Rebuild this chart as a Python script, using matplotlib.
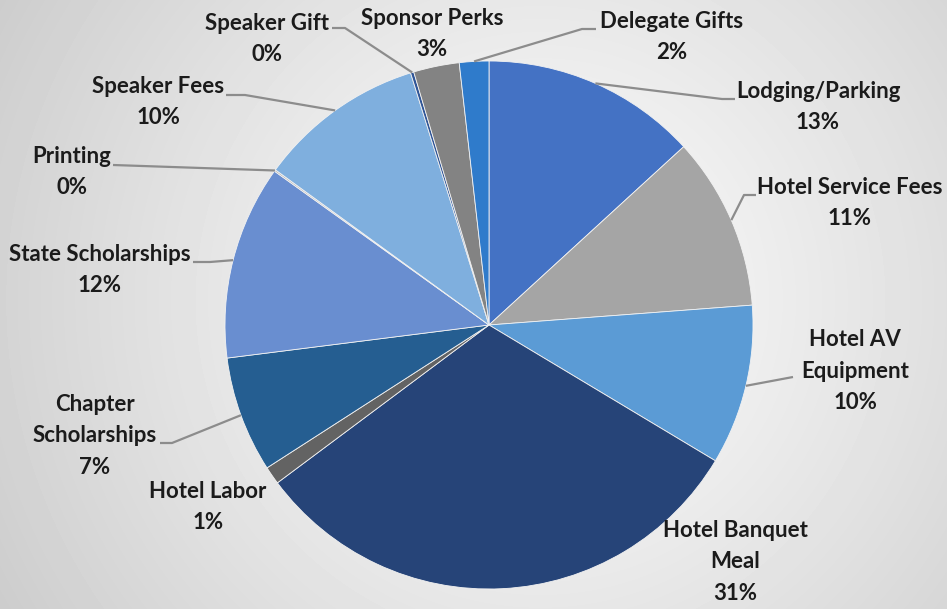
import numpy as np
import matplotlib.pyplot as plt

# budget shares (percent), clockwise from 12 o'clock
categories = ["Lodging/Parking", "Hotel Service Fees", "Hotel AV\nEquipment",
              "Hotel Banquet\nMeal", "Hotel Labor", "Chapter\nScholarships",
              "State Scholarships", "Printing", "Speaker Fees", "Speaker Gift",
              "Sponsor Perks", "Delegate Gifts"]
shares = [13.2, 10.6, 9.8, 31.2, 1.1, 7.1, 11.9, 0.1, 10.2, 0.2, 2.8, 1.8]
colors = ["#4472C4", "#A5A5A5", "#5B9BD5", "#264478", "#636363", "#255E91",
          "#698ED0", "#B7B7B7", "#7FAFDE", "#2F5597", "#838383", "#2F7BCB"]

W, H = 947, 609
fig = plt.figure(figsize=(W / 100, H / 100), dpi=100)
ax = fig.add_axes([0, 0, 1, 1])

# soft grey background, lighter round the pie
yy, xx = np.mgrid[0:H, 0:W]
d = np.hypot(xx - 540, yy - 300) / 640
shade = 0.985 - 0.19 * np.clip(d, 0, 1) ** 1.2
ax.imshow(shade, cmap="gray", vmin=0, vmax=1, extent=(0, W, 0, H),
          origin="upper", zorder=0)

cx, cy, r = 489, H - 325, 264
wedges, _ = ax.pie(shares, colors=colors, startangle=90, counterclock=False,
                   center=(cx, cy), radius=r,
                   wedgeprops=dict(edgecolor="#f2f2f2", linewidth=0.6))

# label centres and leader elbows (pixels from top-left)
label_pos = [(818, 107), (850, 203), (855, 371), (735, 562), (208, 507),
             (95, 436), (100, 270), (72, 172), (158, 102), (267, 39),
             (432, 34), (672, 37)]
elbows = [[(735, 99), (722, 99)], [(756, 195), (744, 195)], [(793, 377)],
          None, None, [(160, 443), (172, 443)], [(193, 262), (210, 262)],
          [(113, 165)], [(226, 95), (245, 95)], [(332, 28), (345, 28)],
          None, [(596, 29), (582, 29)]]

for w, name, val, (tx, ty), el in zip(wedges, categories, shares, label_pos, elbows):
    ax.text(tx, H - ty, f"{name}\n{val:.0f}%", ha="center", va="center",
            multialignment="center", fontsize=16, fontweight="bold",
            family=["Lato", "DejaVu Sans"], color="#1b1b1b", linespacing=1.6,
            zorder=5)
    if el is None:
        continue
    mid = np.deg2rad((w.theta1 + w.theta2) / 2)
    px = [p[0] for p in el] + [cx + r * np.cos(mid)]
    py = [H - p[1] for p in el] + [cy + r * np.sin(mid)]
    ax.plot(px, py, color="#8c8c8c", lw=1.6, zorder=4, solid_capstyle="butt")

ax.set_xlim(0, W)
ax.set_ylim(0, H)
ax.set_aspect("auto")
ax.axis("off")

fig.savefig("out.png", dpi=100)
